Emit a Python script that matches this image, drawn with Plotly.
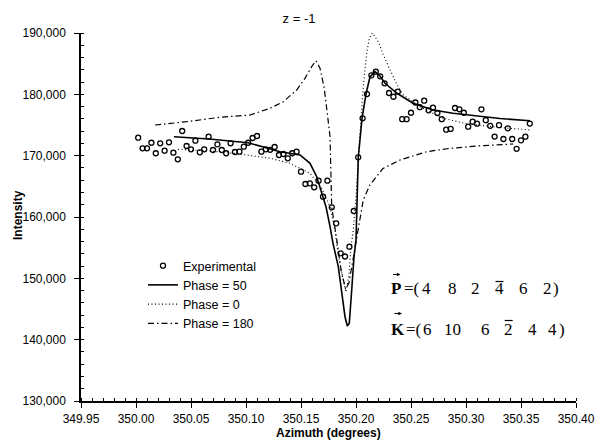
import plotly.graph_objects as go

# ---------------- data ----------------
azimuth_exp = [
    350.002, 350.006, 350.010, 350.014, 350.018, 350.022, 350.026, 350.030, 350.034, 350.038,
    350.042, 350.046, 350.050, 350.054, 350.058, 350.062, 350.066, 350.070, 350.074, 350.078,
    350.082, 350.086, 350.090, 350.094, 350.098, 350.102, 350.106, 350.110, 350.114, 350.118,
    350.122, 350.126, 350.130, 350.134, 350.138, 350.142, 350.146, 350.150, 350.154, 350.158,
    350.162, 350.166, 350.170, 350.174, 350.178, 350.182, 350.186, 350.190, 350.194, 350.198,
    350.202, 350.206, 350.210, 350.214, 350.218, 350.222, 350.226, 350.230, 350.234, 350.238,
    350.242, 350.246, 350.250, 350.254, 350.258, 350.262, 350.266, 350.270, 350.274, 350.278,
    350.282, 350.286, 350.290, 350.294, 350.298, 350.302, 350.306, 350.310, 350.314, 350.318,
    350.322, 350.326, 350.330, 350.334, 350.338, 350.342, 350.346, 350.350, 350.354, 350.358,
]
intensity_exp = [
    172930, 171200, 171200, 172110, 170390, 172020, 170810, 172180, 170480, 169410,
    174020, 171580, 171040, 172440, 170550, 171040, 173090, 170920, 171850, 170920,
    170390, 172020, 170600, 170650, 171460, 172110, 172880, 173210, 170650, 171040,
    170960, 171410, 170110, 170270, 169570, 170390, 170650, 167390, 165380, 165490,
    164840, 165920, 163310, 165920, 161580, 158970, 154080, 153560, 155160, 160980,
    169730, 176090, 180050, 183100, 183690, 182940, 181800, 180220, 179610, 180430,
    175950, 175950, 177000, 178670, 177900, 178960, 177400, 177820, 176960, 175950,
    174230, 174360, 177770, 177560, 177000, 174720, 175540, 175210, 177560, 175780,
    174870, 173120, 174970, 172720, 174460, 172720, 171120, 172500, 173090, 175240,
]

azimuth_p50 = [
    350.0345, 350.0664, 350.1018, 350.1309, 350.1491, 350.1582, 350.1643, 350.1688,
    350.1727, 350.1764, 350.1791, 350.1839, 350.1870, 350.1900, 350.1921, 350.1939,
    350.1961, 350.1982, 350.2000, 350.2012, 350.2021, 350.2036, 350.2055, 350.2091,
    350.2127, 350.2173, 350.2218, 350.2264, 350.2373, 350.2518, 350.2700, 350.2882,
    350.3036, 350.3309, 350.3582,
]
intensity_p50 = [
    173090, 172720, 172110, 170650, 170110, 168750, 166570, 164120,
    161680, 158420, 155710, 151900, 148100, 143740, 142230, 142670,
    148100, 153530, 156250, 163310, 169830, 172550, 176140, 180050,
    182830, 183690, 183000, 181800, 180170, 178540, 177450, 176910,
    176630, 176060, 175700,
]

azimuth_p0 = [
    350.0382, 350.0673, 350.0945, 350.1218, 350.1400, 350.1582, 350.1688, 350.1764,
    350.1809, 350.1830, 350.1864, 350.1909, 350.1936, 350.1952, 350.1975, 350.2000,
    350.2036, 350.2066, 350.2097, 350.2121, 350.2150, 350.2203, 350.2248, 350.2303,
    350.2370, 350.2430, 350.2491, 350.2582, 350.2791, 350.3018, 350.3309, 350.3597,
]
intensity_p0 = [
    171040, 170760, 170270, 169570, 168750, 167120, 164680, 161680,
    157880, 154900, 151360, 147770, 150540, 154620, 157880, 163310,
    173530, 181240, 186690, 189180, 190000, 188580, 186410, 184240,
    181680, 179890, 179080, 177980, 176090, 175160, 174590, 174180,
]

azimuth_p180 = [
    350.0173, 350.0461, 350.0764, 350.1036, 350.1218, 350.1339, 350.1461, 350.1536,
    350.1597, 350.1636, 350.1673, 350.1709, 350.1739, 350.1764, 350.1779, 350.1809,
    350.1830, 350.1864, 350.1905, 350.1936, 350.1964, 350.1991, 350.2021, 350.2066,
    350.2127, 350.2245, 350.2400, 350.2643, 350.2855, 350.3109, 350.3430,
]
intensity_p180 = [
    175000, 175540, 176260, 176630, 177720, 178800, 180710, 182610,
    184510, 185480, 184240, 181240, 176910, 173090, 161680, 158420,
    155710, 151360, 148260, 149240, 152170, 155440, 157880, 162770,
    165240, 167910, 169290, 170650, 171200, 171580, 171900,
]

x_ticks = [349.95, 350.00, 350.05, 350.10, 350.15, 350.20, 350.25, 350.30, 350.35, 350.40]
y_ticks = [130000, 140000, 150000, 160000, 170000, 180000, 190000]

# ---------------- layout geometry (pixels) ----------------
W, H = 598, 443
L, R, T, B = 81, 22, 33, 42
PW, PH = W - L - R, H - T - B


def px(x):
    return (x - L) / PW


def py(y):
    return (H - B - y) / PH


fig = go.Figure()

fig.add_trace(go.Scatter(
    x=azimuth_exp, y=intensity_exp, mode="markers", name="Experimental",
    marker=dict(symbol="circle-open", size=5, color="black", line=dict(width=1.3, color="black")),
    legendrank=1,
))
fig.add_trace(go.Scatter(
    x=azimuth_p50, y=intensity_p50, mode="lines", name="Phase = 50",
    line=dict(color="black", width=1.6), legendrank=2,
))
fig.add_trace(go.Scatter(
    x=azimuth_p0, y=intensity_p0, mode="lines", name="Phase = 0",
    line=dict(color="black", width=1.1, dash="1px,2.5px"), legendrank=3,
))
fig.add_trace(go.Scatter(
    x=azimuth_p180, y=intensity_p180, mode="lines", name="Phase = 180",
    line=dict(color="black", width=1.2, dash="6px,3px,1.5px,3px"), legendrank=4,
))

axis_font = dict(family="Arial, Liberation Sans", size=12, color="black")

fig.update_xaxes(
    range=[349.95, 350.40], tickvals=x_ticks, tickformat=".2f", automargin=False,
    showline=True, linecolor="black", linewidth=1.5, showgrid=False, zeroline=False,
    ticks="outside", ticklen=5, tickwidth=1.3, tickcolor="black", tickfont=axis_font,
    minor=dict(dtick=0.01, ticks="inside", ticklen=3, tickwidth=1, tickcolor="black", showgrid=False),
    ticklabelstandoff=1,
)
fig.update_yaxes(
    range=[130000, 190000], tickvals=y_ticks, tickformat=",d", automargin=False,
    showline=True, linecolor="black", linewidth=1.5, showgrid=False, zeroline=False,
    ticks="outside", ticklen=5, tickwidth=1.3, tickcolor="black", tickfont=axis_font,
    minor=dict(dtick=2000, ticks="inside", ticklen=3, tickwidth=1, tickcolor="black", showgrid=False),
    ticklabelstandoff=6,
)

annotations = [
    dict(text="<b>Azimuth (degrees)</b>", x=px(328), y=py(433), xref="paper", yref="paper",
         showarrow=False, xanchor="center", yanchor="middle",
         font=dict(family="Arial, Liberation Sans", size=12, color="black")),
    dict(text="<b>Intensity</b>", x=px(18), y=py(215), xref="paper", yref="paper",
         showarrow=False, xanchor="center", yanchor="middle", textangle=-90,
         font=dict(family="Arial, Liberation Sans", size=12, color="black")),
]

serif = "Times New Roman, Liberation Serif, serif"
vec_size = 17


def add_tok(text, cx, cy, size=vec_size, bold=False):
    t = f"<b>{text}</b>" if bold else text
    annotations.append(dict(text=t, x=px(cx), y=py(cy), xref="paper", yref="paper",
                            showarrow=False, xanchor="center", yanchor="middle",
                            font=dict(family=serif, size=size, color="black")))


# P vector line
yP = 288.5
add_tok("P", 395.5, yP, bold=True)
add_tok("=(", 412, yP)
for tok, cx in [("4", 426.7), ("8", 452), ("2", 475.3), ("4", 499.5), ("6", 523.8), ("2", 547)]:
    add_tok(tok, cx, yP)
add_tok(")", 556, yP)
# K vector line
yK = 329
add_tok("K", 397.5, yK, bold=True)
add_tok("=(", 414, yK)
for tok, cx in [("6", 427), ("10", 452.7), ("6", 485.8), ("2", 508.7), ("4", 532), ("4", 552.8)]:
    add_tok(tok, cx, yK)
add_tok(")", 562, yK)

# arrows above P and K
for ax0, ay0 in [(391.5, 274.5), (393, 313.5)]:
    annotations.append(dict(x=px(ax0 + 9), y=py(ay0), ax=-9, ay=0,
                            xref="paper", yref="paper", axref="pixel", ayref="pixel",
                            text="", showarrow=True, arrowhead=2, arrowsize=0.6,
                            arrowwidth=1.2, arrowcolor="black"))

shapes = [
    # bars above 4 (P line) and 2 (K line)
    dict(type="line", xref="paper", yref="paper", x0=px(495.5), x1=px(503.5),
         y0=py(281.5), y1=py(281.5), line=dict(color="black", width=1.2)),
    dict(type="line", xref="paper", yref="paper", x0=px(504.7), x1=px(512.7),
         y0=py(320.5), y1=py(320.5), line=dict(color="black", width=1.2)),
]

fig.update_layout(
    width=W, height=H, autosize=False,
    margin=dict(l=L, r=R, t=T, b=B),
    paper_bgcolor="white", plot_bgcolor="white",
    title=dict(text="z = -1", x=0.5, xref="container", xanchor="center",
               y=1 - 18 / H, yref="container", yanchor="middle",
               font=dict(family="Arial, Liberation Sans", size=13, color="black")),
    showlegend=True,
    legend=dict(x=px(143), y=py(251), xanchor="left", yanchor="top",
                bgcolor="rgba(0,0,0,0)", borderwidth=0,
                font=dict(family="Arial, Liberation Sans", size=12.5, color="black"),
                tracegroupgap=0, itemwidth=30),
    annotations=annotations,
    shapes=shapes,
)

fig.write_html("out.html", config={"displayModeBar": False},
               post_script="document.body.style.margin='0';document.body.style.padding='0';")
